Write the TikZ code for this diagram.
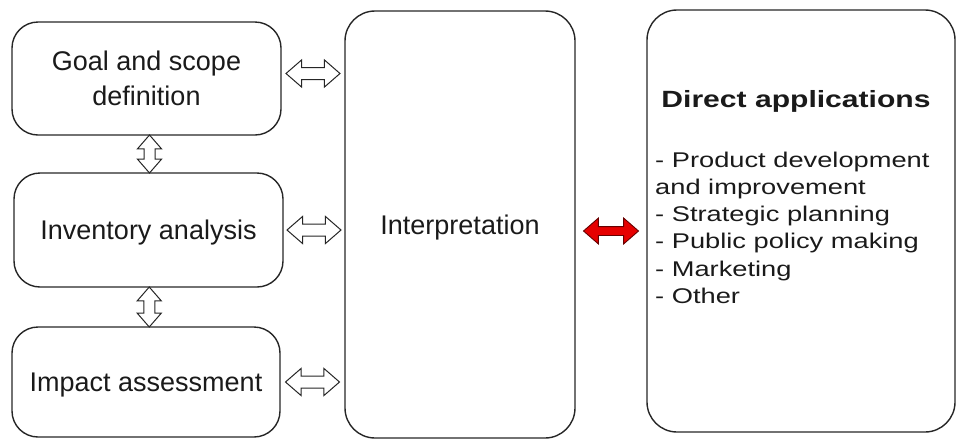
\documentclass[tikz,border=0pt]{standalone}
\usepackage{fontspec}
\setmainfont{Liberation Sans}
\newfontfamily\widefont{Liberation Sans}[FakeStretch=1.28]
\usetikzlibrary{shapes.arrows,calc}
\definecolor{ink}{HTML}{1A1A1A}
\definecolor{edge}{HTML}{262626}
\definecolor{redarrow}{HTML}{E60000}
\begin{document}
\begin{tikzpicture}[x=1pt,y=-1pt,
  box/.style={draw=edge, line width=1.4pt, rounded corners=26pt, align=center,
    text=ink, text depth=-5pt, font=\fontsize{27}{35}\selectfont},
  hollow/.style={double arrow, draw=edge, fill=white, line width=1pt,
    double arrow tip angle=82, inner sep=0pt, text width=0pt},
  redhead/.style={double arrow, draw=black!60!red, fill=redarrow, line width=0.9pt,
    double arrow tip angle=82, inner sep=0pt, text width=0pt}]
\useasboundingbox (0,0) rectangle (957,440);

\node[box, minimum width=269pt, minimum height=113pt] (goal) at (146.5,78.5) {Goal and scope\\definition};
\node[box, minimum width=269pt, minimum height=114pt] (inv) at (148.5,230) {Inventory analysis};
\node[box, minimum width=268pt, minimum height=110pt] (impact) at (146,382) {Impact assessment};
\node[box, minimum width=230pt, minimum height=427pt, rounded corners=30pt] (interp) at (460,224.5) {Interpretation};
\node[box, minimum width=308pt, minimum height=422pt, rounded corners=30pt] (direct) at (801,221) {};

\node[text=ink, inner sep=0pt, anchor=base, font=\widefont\bfseries\fontsize{23.5}{27}\selectfont] (title) at (796,107) {Direct applications};
\node[text=ink, inner sep=0pt, anchor=north west, align=left, font=\widefont\fontsize{21.3}{27.1}\selectfont] (list) at (655,152)
  {- Product development\\and improvement\\- Strategic planning\\- Public policy making\\- Marketing\\- Other};

% horizontal hollow arrows
\tikzset{hshaft/.style={text height=5.5pt, text depth=5.5pt, double arrow head extend=7.5pt, minimum height=54pt}}
\node[hollow, hshaft] (a1) at ($(goal.east)!0.5!(goal.east -| interp.west)+(0,-5)$) {};
\node[hollow, hshaft] (a2) at ($(inv.east)!0.5!(inv.east -| interp.west)$) {};
\node[hollow, hshaft] (a3) at ($(impact.east)!0.5!(impact.east -| interp.west)$) {};
% vertical hollow arrows
\tikzset{vshaft/.style={rotate=90, text height=5pt, text depth=5pt, double arrow head extend=6.5pt}}
\node[hollow, vshaft, minimum height=38pt] (v1) at ($(goal.south)!0.5!(inv.north)+(2,0)$) {};
\node[hollow, vshaft, minimum height=40pt] (v2) at ($(inv.south)!0.5!(impact.north)+(2,0)$) {};
% red arrow
\node[redhead, text height=4pt, text depth=4pt, double arrow head extend=8.5pt, minimum height=55pt] (r1) at ($(interp.east |- 0,231)!0.5!(direct.west |- 0,231)$) {};
\end{tikzpicture}
\end{document}
